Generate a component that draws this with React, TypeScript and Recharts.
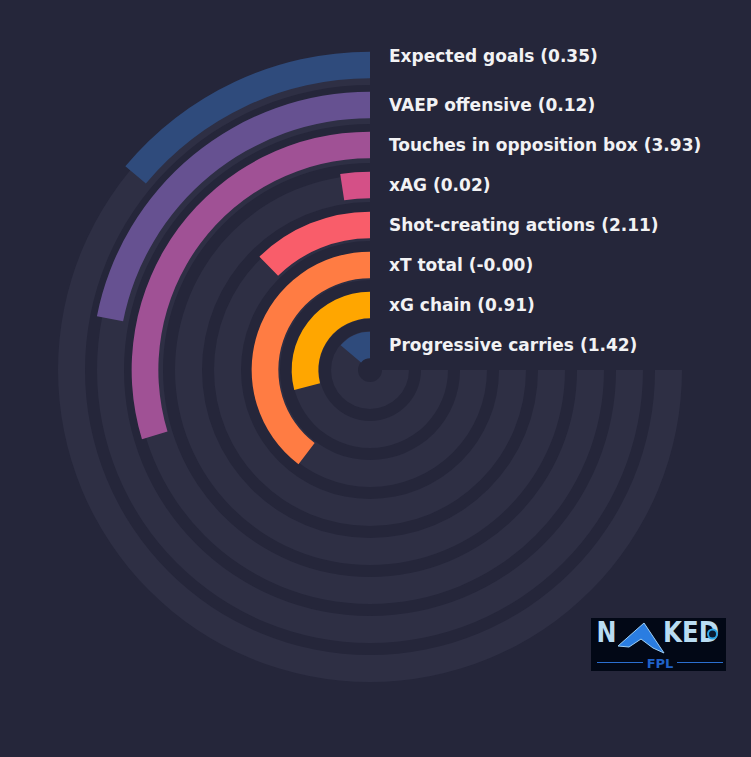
import React from 'react';
import { RadialBarChart, RadialBar, PolarAngleAxis, PolarRadiusAxis } from 'recharts';

// Display order: outermost ring first
const metricNames = [
  'Expected goals',
  'VAEP offensive',
  'Touches in opposition box',
  'xAG',
  'Shot-creating actions',
  'xT total',
  'xG chain',
  'Progressive carries',
];
const metricValues = ['0.35', '0.12', '3.93', '0.02', '2.11', '-0.00', '0.91', '1.42'];
const percentiles = [18.6, 29.2, 39.6, 3.2, 16.4, 52.9, 38.8, 18.5];
const barColors = ['#2f4b7c', '#665191', '#a05195', '#d45087', '#f95d6a', '#ff7c43', '#ffa600', '#2f4b7c'];

const W = 751;
const H = 757;
const CX = 370;
const CY = 370;
const BG = '#25263a';
const TRACK = '#2e2f44';

// recharts radial category axis goes inner -> outer, so reverse
const chartData = metricNames
  .map((name, i) => ({
    name,
    label: `${name} (${metricValues[i]})`,
    pct: percentiles[i],
    fill: barColors[i],
    first: i === 0,
  }))
  .reverse();

const trackData = metricNames.map((name) => ({ name, full: 100 })).reverse();

const LabelTick = (props: any) => {
  const { x, y, payload, index } = props;
  const item = chartData[index] || chartData.find((d) => d.name === payload.value);
  const text = item ? item.label : payload.value;
  const isTop = item ? item.first : false;
  return (
    <text
      x={x + 19}
      y={isTop ? y - 3 : y + 5.5}
      fill="#f2f2f4"
      fontFamily="DejaVu Sans"
      fontWeight="bold"
      fontSize={17}
      textAnchor="start"
    >
      {text}
    </text>
  );
};

export default function App() {
  return (
    <div style={{ position: 'fixed', left: 0, top: 0, width: W, height: H, background: BG, overflow: 'hidden' }}>
      <div style={{ position: 'absolute', left: 0, top: 0 }}>
        <RadialBarChart
          width={W}
          height={H}
          data={trackData}
          cx={CX}
          cy={CY}
          innerRadius={6}
          outerRadius={318}
          startAngle={90}
          endAngle={360}
          barSize={27}
          margin={{ top: 0, right: 0, bottom: 0, left: 0 }}
        >
          <PolarAngleAxis type="number" domain={[0, 100]} tick={false} axisLine={false} />
          <PolarRadiusAxis type="category" dataKey="name" tick={false} axisLine={false} tickLine={false} />
          <RadialBar dataKey="full" fill={TRACK} isAnimationActive={false} />
        </RadialBarChart>
      </div>
      <div style={{ position: 'absolute', left: 0, top: 0 }}>
        <RadialBarChart
          width={W}
          height={H}
          data={chartData}
          cx={CX}
          cy={CY}
          innerRadius={4.65}
          outerRadius={324.65}
          startAngle={90}
          endAngle={360}
          barSize={26.7}
          margin={{ top: 0, right: 0, bottom: 0, left: 0 }}
        >
          <PolarAngleAxis type="number" domain={[0, 100]} tick={false} axisLine={false} />
          <PolarRadiusAxis
            type="category"
            dataKey="name"
            angle={90}
            orientation="right"
            axisLine={false}
            tickLine={false}
            tick={<LabelTick />}
          />
          <RadialBar dataKey="pct" isAnimationActive={false} />
        </RadialBarChart>
      </div>
      <svg style={{ position: 'absolute', left: 586, top: 606 }} width={145} height={70}>
        <g transform="translate(5,12)">
          <rect x={0} y={0} width={135} height={53} fill="#020816" />
          <text x={5.5} y={24} fill="#b9dcf2" fontFamily="DejaVu Sans" fontWeight="bold" fontSize={29} textLength={20} lengthAdjust="spacingAndGlyphs">N</text>
          <path d="M27 28 L53 5 L73 35 L62 30 L50 21 L38 29 Z" fill="#2a7de1" stroke="#9fd0f5" strokeWidth={1} />
          <text x={72} y={24} fill="#b9dcf2" fontFamily="DejaVu Sans" fontWeight="bold" fontSize={29} textLength={56} lengthAdjust="spacingAndGlyphs">KED</text>
          <circle cx={121.5} cy={16} r={4.5} fill="#0a1a30" stroke="#2ca6e8" strokeWidth={2} />
          <line x1={6} y1={44.5} x2={52} y2={44.5} stroke="#2b6fd0" strokeWidth={1} />
          <line x1={86} y1={44.5} x2={132} y2={44.5} stroke="#2b6fd0" strokeWidth={1} />
          <text x={69} y={50} fill="#2062c8" fontFamily="DejaVu Sans" fontWeight="bold" fontSize={13} textAnchor="middle">FPL</text>
        </g>
      </svg>
    </div>
  );
}
